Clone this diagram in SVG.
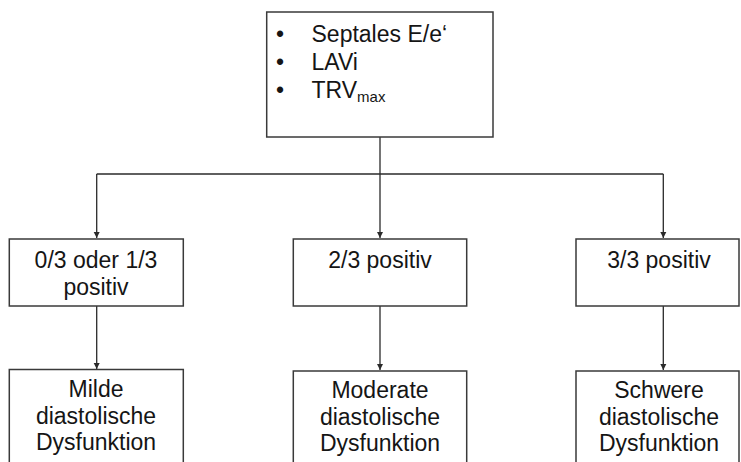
<svg xmlns="http://www.w3.org/2000/svg" width="741" height="462" viewBox="0 0 741 462">
<defs>
<style>
.box{fill:#fff;stroke:#3a3a3a;stroke-width:1.5}
.t{font-family:"Liberation Sans",Arial,Helvetica,sans-serif;font-size:23px;fill:#151515}
.c{text-anchor:middle}
.ln{fill:none;stroke:#2a2a2a;stroke-width:1.3}
</style>
<marker id="ah" viewBox="0 0 10 10" refX="10" refY="5" markerWidth="6" markerHeight="7" markerUnits="userSpaceOnUse" orient="auto">
<path d="M0,0 L10,5 L0,10 Z" fill="#2a2a2a"/>
</marker>
</defs>
<rect width="741" height="462" fill="#fff"/>
<g id="connectors">
<path class="ln" d="M380,137 V174"/>
<path class="ln" d="M96.7,174 H663.3"/>
<path class="ln" d="M96.7,174 V238" marker-end="url(#ah)"/>
<path class="ln" d="M380,174 V238" marker-end="url(#ah)"/>
<path class="ln" d="M663.3,174 V238" marker-end="url(#ah)"/>
<path class="ln" d="M96.7,306 V369" marker-end="url(#ah)"/>
<path class="ln" d="M380,306 V370" marker-end="url(#ah)"/>
<path class="ln" d="M663.3,306 V370" marker-end="url(#ah)"/>
</g>
<g id="top">
<rect class="box" x="266.7" y="12" width="226.3" height="125"/>
<text class="t" x="276" y="42">•</text>
<text class="t" x="311.5" y="42">Septales E/e‘</text>
<text class="t" x="276" y="70">•</text>
<text class="t" x="311.5" y="70">LAVi</text>
<text class="t" x="276" y="98">•</text>
<text class="t" x="311.5" y="98">TRV<tspan font-size="15" dy="4">max</tspan></text>
</g>
<g id="n1">
<rect class="box" x="9.3" y="239" width="174" height="67"/>
<text class="t c" x="96" y="268">0/3 oder 1/3</text>
<text class="t c" x="96" y="295">positiv</text>
</g>
<g id="n2">
<rect class="box" x="293.3" y="239" width="173.4" height="67"/>
<text class="t c" x="380" y="268">2/3 positiv</text>
</g>
<g id="n3">
<rect class="box" x="576" y="239" width="163" height="67"/>
<text class="t c" x="659" y="268">3/3 positiv</text>
</g>
<g id="b1">
<rect class="box" x="9.3" y="369.5" width="174" height="100"/>
<text class="t c" x="96" y="397">Milde</text>
<text class="t c" x="96" y="423.5">diastolische</text>
<text class="t c" x="96" y="450">Dysfunktion</text>
</g>
<g id="b2">
<rect class="box" x="293.3" y="371" width="173.4" height="100"/>
<text class="t c" x="380" y="398">Moderate</text>
<text class="t c" x="380" y="424.5">diastolische</text>
<text class="t c" x="380" y="451">Dysfunktion</text>
</g>
<g id="b3">
<rect class="box" x="576" y="371" width="163" height="100"/>
<text class="t c" x="659" y="398">Schwere</text>
<text class="t c" x="659" y="424.5">diastolische</text>
<text class="t c" x="659" y="451">Dysfunktion</text>
</g>
</svg>
